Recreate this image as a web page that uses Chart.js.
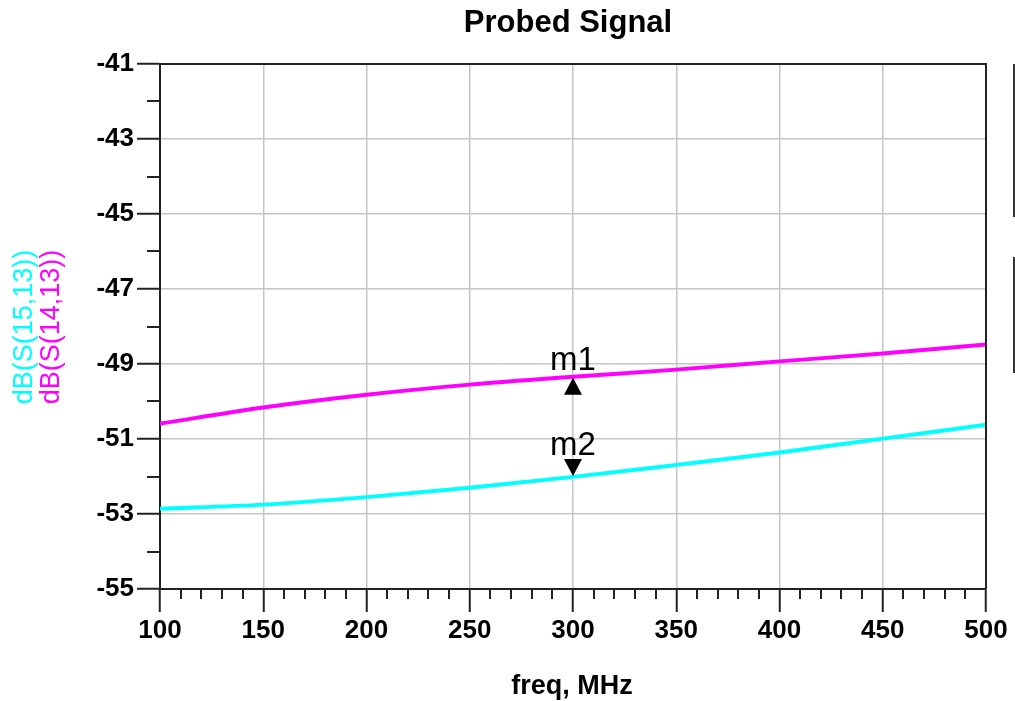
<!DOCTYPE html>
<html>
<head>
<meta charset="utf-8">
<script src="https://cdn.jsdelivr.net/npm/chart.js@4.4.1/dist/chart.umd.min.js"></script>
<style>
  html, body { margin: 0; padding: 0; background: #fff; }
  #wrap { width: 1015px; height: 701px; }
</style>
</head>
<body>
<div id="wrap"><canvas id="c" width="1015" height="701"></canvas></div>
<script>
// ---- data ----
const freqMHz = [100, 150, 200, 250, 300, 350, 400, 450, 500];
const dB_S14_13 = [-50.59, -50.16, -49.82, -49.55, -49.34, -49.15, -48.93, -48.72, -48.48];
const dB_S15_13 = [-52.86, -52.75, -52.55, -52.30, -52.01, -51.69, -51.36, -50.99, -50.62];
const yTickValues = [-55, -53, -51, -49, -47, -45, -43, -41];
const xTickValues = [100, 150, 200, 250, 300, 350, 400, 450, 500];
const markerFreq = 300;
const markerNames = ['m1', 'm2'];

const MAGENTA = '#ff00ff';
const CYAN = '#00ffff';
const FONT = '"Liberation Sans", Arial, sans-serif';

const toPts = (ys) => freqMHz.map((f, i) => ({ x: f, y: ys[i] }));

const decoPlugin = {
  id: 'deco',
  beforeDraw(chart) {
    const ctx = chart.ctx;
    ctx.save();
    ctx.fillStyle = '#fff';
    ctx.fillRect(0, 0, chart.width, chart.height);
    ctx.restore();
  },
  afterDraw(chart) {
    const ctx = chart.ctx;
    const a = chart.chartArea;
    const xs = chart.scales.x, ys = chart.scales.y;
    ctx.save();
    // top & right frame
    ctx.strokeStyle = '#222';
    ctx.lineWidth = 2;
    ctx.beginPath();
    ctx.moveTo(a.left, a.top); ctx.lineTo(a.right, a.top); ctx.lineTo(a.right, a.bottom);
    ctx.stroke();
    // minor ticks
    ctx.lineWidth = 2;
    ctx.beginPath();
    for (let v = -54; v <= -42; v += 2) {
      const py = Math.round(ys.getPixelForValue(v));
      ctx.moveTo(a.left - 13, py); ctx.lineTo(a.left, py);
    }
    for (let v = 110; v < 500; v += 10) {
      if (v % 50 === 0) continue;
      const px = Math.round(xs.getPixelForValue(v));
      ctx.moveTo(px, a.bottom); ctx.lineTo(px, a.bottom + 10);
    }
    ctx.stroke();
    // cut-off readout boxes at the right edge
    ctx.strokeStyle = '#333';
    ctx.beginPath();
    ctx.moveTo(1014, 64); ctx.lineTo(1014, 217);
    ctx.moveTo(1014, 257); ctx.lineTo(1014, 373);
    ctx.stroke();

    // title
    ctx.fillStyle = '#000';
    ctx.font = 'bold 31px ' + FONT;
    ctx.textAlign = 'center';
    ctx.textBaseline = 'alphabetic';
    ctx.fillText('Probed Signal', 568, 32);
    // x title
    ctx.font = 'bold 27px ' + FONT;
    ctx.fillText('freq, MHz', 572, 694);
    // y titles
    ctx.font = '27px ' + FONT;
    ctx.textBaseline = 'middle';
    ctx.save();
    ctx.translate(25, 327); ctx.rotate(-Math.PI / 2);
    ctx.fillStyle = CYAN; ctx.fillText('dB(S(15,13))', 0, 0);
    ctx.restore();
    ctx.save();
    ctx.translate(52, 327); ctx.rotate(-Math.PI / 2);
    ctx.fillStyle = MAGENTA; ctx.fillText('dB(S(14,13))', 0, 0);
    ctx.restore();

    // markers
    const idx = freqMHz.indexOf(markerFreq);
    ctx.fillStyle = '#000';
    ctx.font = '33px ' + FONT;
    ctx.textAlign = 'center';
    ctx.textBaseline = 'alphabetic';
    // m1 on dataset 0 (magenta), triangle up below line
    const p1 = chart.getDatasetMeta(0).data[idx];
    ctx.beginPath();
    ctx.moveTo(p1.x, p1.y + 1); ctx.lineTo(p1.x - 9, p1.y + 18); ctx.lineTo(p1.x + 9, p1.y + 18);
    ctx.closePath(); ctx.fill();
    ctx.fillText(markerNames[0], p1.x, p1.y - 7);
    // m2 on dataset 1 (cyan), triangle down above line
    const p2 = chart.getDatasetMeta(1).data[idx];
    ctx.beginPath();
    ctx.moveTo(p2.x, p2.y - 1); ctx.lineTo(p2.x - 9, p2.y - 18); ctx.lineTo(p2.x + 9, p2.y - 18);
    ctx.closePath(); ctx.fill();
    ctx.fillText(markerNames[1], p2.x, p2.y - 22);
    ctx.restore();
  }
};

new Chart(document.getElementById('c'), {
  type: 'line',
  data: {
    datasets: [
      { label: 'dB(S(14,13))', data: toPts(dB_S14_13), borderColor: MAGENTA, borderWidth: 4,
        pointRadius: 0, tension: 0.4, cubicInterpolationMode: 'monotone', fill: false },
      { label: 'dB(S(15,13))', data: toPts(dB_S15_13), borderColor: CYAN, borderWidth: 4,
        pointRadius: 0, tension: 0.4, cubicInterpolationMode: 'monotone', fill: false }
    ]
  },
  options: {
    responsive: false,
    animation: false,
    layout: { padding: { top: 64, right: 29, left: 0, bottom: 0 } },
    plugins: { legend: { display: false }, title: { display: false }, tooltip: { enabled: false } },
    scales: {
      x: {
        type: 'linear', min: 100, max: 500,
        afterBuildTicks: (s) => { s.ticks = xTickValues.map(v => ({ value: v })); },
        afterFit: (s) => { s.height = 112; },
        grid: { color: '#c6c6c6', lineWidth: 1.5, drawTicks: true, tickLength: 23, tickColor: '#222', tickWidth: 2 },
        border: { display: true, color: '#222', width: 2 },
        ticks: { color: '#000', font: { family: FONT, size: 26, weight: 'bold' }, padding: 3, maxRotation: 0, autoSkip: false }
      },
      y: {
        type: 'linear', min: -55, max: -41,
        afterBuildTicks: (s) => { s.ticks = yTickValues.map(v => ({ value: v })); },
        afterFit: (s) => { s.width = 160; },
        grid: { color: '#c6c6c6', lineWidth: 1.5, drawTicks: true, tickLength: 23, tickColor: '#222', tickWidth: 2 },
        border: { display: true, color: '#222', width: 2 },
        ticks: { color: '#000', font: { family: FONT, size: 26, weight: 'bold' }, padding: 3, autoSkip: false }
      }
    }
  },
  plugins: [decoPlugin]
});
</script>
</body>
</html>
